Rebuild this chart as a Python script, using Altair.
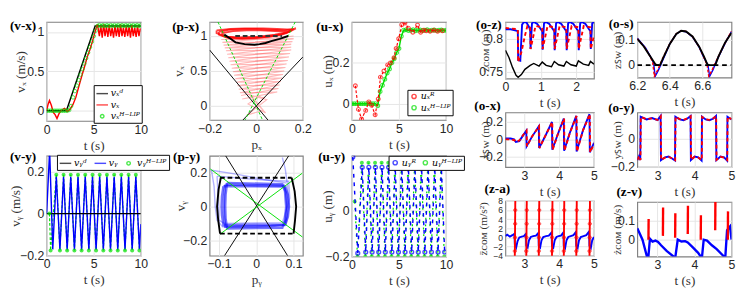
import altair as alt
import pandas as pd

# ---------------- (v-x) ----------------
VX_DES = [(0, 0), (2.1, 0), (5.15, 1.08), (10, 1.08)]
VX_ACT = [(0, 0), (0.15, 0.08), (0.3, 0.13), (0.5, 0.07), (0.7, -0.02), (0.9, -0.05), (1.1, -0.1), (1.3, -0.04),
          (1.6, 0.01), (1.9, 0.03), (2.2, -0.01), (2.5, 0.02), (2.8, 0.08), (3.1, 0.17), (3.4, 0.3), (3.7, 0.43),
          (4.0, 0.55), (4.3, 0.68), (4.6, 0.78), (4.9, 0.9), (5.2, 1.03), (5.4, 1.1), (5.6, 0.95), (5.75, 1.08),
          (5.9, 0.93), (6.05, 1.1), (6.2, 0.95), (6.35, 1.07), (6.5, 0.94), (6.65, 1.09), (6.8, 0.95), (6.95, 1.06),
          (7.1, 0.93), (7.25, 1.08), (7.4, 0.95), (7.55, 1.07), (7.7, 0.94), (7.85, 1.1), (8.0, 0.95), (8.15, 1.06),
          (8.3, 0.94), (8.45, 1.08), (8.6, 0.95), (8.75, 1.07), (8.9, 0.93), (9.05, 1.09), (9.2, 0.95), (9.35, 1.06),
          (9.5, 0.94), (9.65, 1.08), (9.8, 0.95), (9.95, 1.05)]
VX_HLIP = [(0, 0), (0.2, 0), (0.4, 0), (0.6, 0), (0.8, 0), (1.0, 0), (1.2, 0), (1.4, 0), (1.6, 0), (1.8, 0),
           (2.0, 0), (2.2, 0), (2.4, 0.01), (2.6, 0.06), (2.8, 0.17), (3.0, 0.25), (3.2, 0.32), (3.4, 0.39),
           (3.6, 0.46), (3.8, 0.53), (4.0, 0.6), (4.2, 0.67), (4.4, 0.74), (4.6, 0.81), (4.8, 0.88), (5.0, 0.95),
           (5.2, 1.02), (5.4, 1.08), (5.6, 1.09), (5.8, 1.08), (6.0, 1.09), (6.2, 1.08), (6.4, 1.09), (6.6, 1.08),
           (6.8, 1.09), (7.0, 1.08), (7.2, 1.09), (7.4, 1.08), (7.6, 1.09), (7.8, 1.08), (8.0, 1.09), (8.2, 1.08),
           (8.4, 1.09), (8.6, 1.08), (8.8, 1.09), (9.0, 1.08), (9.2, 1.09), (9.4, 1.08), (9.6, 1.09), (9.8, 1.08),
           (10.0, 1.09)]

# ---------------- (p-x) ----------------
PX_BLACK = [[(-0.2, 0.8), (0.05, -0.2)], [(-0.057, -0.2), (0.2, 0.7)]]
PX_GREEN = [[(-0.164, 1.2), (0.027, -0.2)], [(0.167, 1.2), (-0.048, -0.2)]]
PX_TRAIL = [[(0.0, 0.0), (0.035, 0.12), (-0.02, 0.14), (0.03, -0.06), (-0.04, -0.13), (0.045, 0.09), (-0.03, 0.16),
             (0.04, -0.1), (-0.035, 0.03), (0.02, 0.15), (-0.06, 0.1), (0.09, 0.2), (-0.07, 0.19), (0.1, 0.3),
             (-0.08, 0.29), (0.11, 0.4), (-0.09, 0.39), (0.12, 0.5), (-0.1, 0.49), (0.13, 0.6), (-0.11, 0.59),
             (0.14, 0.7), (-0.12, 0.69), (0.15, 0.8), (-0.13, 0.79), (0.15, 0.88), (-0.14, 0.87), (0.16, 0.96),
             (-0.15, 0.95)],
            [(-0.065, 0.15), (0.095, 0.25), (-0.075, 0.24), (0.105, 0.35), (-0.085, 0.34), (0.115, 0.45),
             (-0.095, 0.44), (0.125, 0.55), (-0.105, 0.54), (0.135, 0.65), (-0.115, 0.64), (0.145, 0.75),
             (-0.125, 0.74), (0.15, 0.84), (-0.135, 0.83), (0.155, 0.92), (-0.145, 0.91), (0.16, 1.0)]]
PX_LOOPS = [[(-0.16, 1.06), (-0.12, 1.09), (-0.06, 1.1), (0.0, 1.1), (0.06, 1.09), (0.12, 1.08), (0.16, 1.1),
             (0.13, 1.04), (0.07, 1.0), (0.0, 0.97), (-0.06, 0.96), (-0.12, 0.97), (-0.16, 1.02), (-0.16, 1.06)],
            [(-0.15, 1.04), (-0.1, 1.07), (-0.04, 1.08), (0.02, 1.08), (0.08, 1.07), (0.14, 1.06), (0.15, 1.08),
             (0.11, 1.02), (0.05, 0.99), (-0.02, 0.97), (-0.08, 0.97), (-0.13, 0.99), (-0.15, 1.04)],
            [(-0.17, 1.08), (-0.11, 1.1), (-0.05, 1.11), (0.03, 1.11), (0.09, 1.1), (0.15, 1.09), (0.17, 1.11),
             (0.14, 1.06), (0.08, 1.02), (0.01, 0.99), (-0.07, 0.98), (-0.13, 0.99), (-0.17, 1.04), (-0.17, 1.08)]]
PX_CURVE = [(-0.137, 1.02), (-0.11, 0.96), (-0.089, 0.91), (-0.05, 0.885), (-0.007, 0.876), (0.014, 0.884),
            (0.04, 0.9), (0.068, 0.93), (0.1, 0.96), (0.137, 1.0)]
PX_DASH = [(-0.09, 1.0), (0.11, 1.0)]

# ---------------- (u-x) ----------------
UX_R = [(0.37, 0.088), (0.7, -0.028), (1.03, -0.075), (1.47, -0.033), (1.8, 0.009), (2.1, -0.008), (2.47, -0.054),
        (2.8, 0.023), (3.03, 0.13), (3.4, 0.16), (3.8, 0.19), (4.1, 0.2), (4.47, 0.225), (4.7, 0.27), (4.97, 0.318),
        (5.3, 0.387), (5.63, 0.395), (6.0, 0.37), (6.47, 0.35), (6.97, 0.385), (7.3, 0.35), (7.6, 0.36),
        (7.9, 0.357), (8.3, 0.355), (8.7, 0.36), (9.1, 0.355), (9.6, 0.357)]
UX_H = [(0, 0), (0.25, 0), (0.5, 0), (0.75, 0), (1.0, 0), (1.25, 0), (1.5, 0), (1.75, 0), (2.0, 0), (2.25, 0),
        (2.5, 0), (2.75, -0.01), (3.0, 0.06), (3.25, 0.09), (3.5, 0.12), (3.75, 0.15), (4.0, 0.17), (4.25, 0.2),
        (4.5, 0.22), (4.75, 0.25), (5.0, 0.27), (5.25, 0.33), (5.5, 0.36), (5.75, 0.362), (6.0, 0.358),
        (6.25, 0.36), (6.5, 0.362), (6.75, 0.357), (7.0, 0.36), (7.25, 0.361), (7.5, 0.358), (7.75, 0.36),
        (8.0, 0.362), (8.25, 0.358), (8.5, 0.36), (8.75, 0.361), (9.0, 0.358), (9.25, 0.36), (9.5, 0.361),
        (9.75, 0.358), (10.0, 0.36)]

# ---------------- (v-y) ----------------
VY_DES = [(0, 0), (10, 0)]
VY_ACT = [(0, 0), (0.32, 0.3), (0.65, -0.17), (1.03, 0.175), (1.41, -0.17), (1.8, 0.175), (2.18, -0.17),
          (2.56, 0.175), (2.95, -0.17), (3.33, 0.175), (3.71, -0.17), (4.1, 0.175), (4.48, -0.17), (4.87, 0.175),
          (5.25, -0.17), (5.63, 0.175), (6.02, -0.17), (6.4, 0.175), (6.78, -0.17), (7.17, 0.175), (7.55, -0.17),
          (7.93, 0.175), (8.32, -0.17), (8.7, 0.175), (9.08, -0.17), (9.47, 0.175), (9.85, -0.17), (10, -0.05)]
VY_HLIP = [(0.3, 0.0), (0.42, -0.175), (1.03, 0.185), (1.41, -0.175), (1.8, 0.185), (2.18, -0.175), (2.56, 0.185),
           (2.95, -0.175), (3.33, 0.185), (3.71, -0.175), (4.1, 0.185), (4.48, -0.175), (4.87, 0.185),
           (5.25, -0.175), (5.63, 0.185), (6.02, -0.175), (6.4, 0.185), (6.78, -0.175), (7.17, 0.185),
           (7.55, -0.175), (7.93, 0.185), (8.32, -0.175), (8.7, 0.185), (9.08, -0.175), (9.47, 0.185),
           (9.85, -0.175)]

# ---------------- (p-y) ----------------
PY_BLACK = [[(-0.082, 0.3), (0.084, -0.29)], [(0.087, 0.3), (-0.085, -0.29)]]
PY_GREEN = [[(-0.123, 0.222), (0.124, -0.18)], [(-0.097, -0.163), (0.124, 0.198)]]
PY_DASH = [[(-0.097, 0.17), (0.095, 0.17)], [(-0.097, -0.16), (0.1, -0.16)]]
PY_ARCS = [[(-0.095, 0.17), (-0.101, 0.1), (-0.105, 0.0), (-0.102, -0.08), (-0.097, -0.16)],
           [(0.095, 0.17), (0.103, 0.09), (0.107, 0.0), (0.104, -0.08), (0.1, -0.16)]]
PY_LIGHT = [[(-0.12, 0.215), (-0.113, 0.12), (-0.11, 0.0), (-0.105, -0.08), (-0.09, -0.12), (0.0, -0.118),
             (0.08, -0.11), (0.088, 0.0), (0.084, 0.12), (0.078, 0.22), (0.07, 0.29)],
            [(-0.12, 0.215), (-0.05, 0.19), (0.02, 0.16), (0.08, 0.14)],
            [(-0.105, 0.18), (-0.102, 0.05), (-0.1, -0.08), (-0.085, -0.1), (0.07, -0.095), (0.09, 0.05),
             (0.087, 0.15), (0.0, 0.16), (-0.105, 0.18)]]
PY_LOOPS = [[(-0.083, 0.13), (-0.04, 0.128), (0.0, 0.126), (0.04, 0.125), (0.074, 0.124), (0.08, 0.08),
             (0.083, 0.0), (0.08, -0.07), (0.075, -0.11), (0.04, -0.115), (0.0, -0.117), (-0.04, -0.118),
             (-0.083, -0.12), (-0.086, -0.06), (-0.087, 0.0), (-0.086, 0.07), (-0.083, 0.13)],
            [(-0.078, 0.14), (0.07, 0.132), (0.077, 0.09), (0.08, 0.0), (0.077, -0.08), (0.07, -0.125),
             (-0.078, -0.13), (-0.082, -0.07), (-0.083, 0.0), (-0.082, 0.07), (-0.078, 0.14)],
            [(-0.088, 0.12), (0.078, 0.118), (0.085, 0.07), (0.088, 0.0), (0.085, -0.06), (0.078, -0.105),
             (-0.088, -0.11), (-0.092, -0.05), (-0.093, 0.0), (-0.092, 0.06), (-0.088, 0.12)]]

# ---------------- (u-y) ----------------
UY_R = [(0.1, 0.235), (0.63, -0.185), (1.1, 0.19), (1.47, -0.18), (1.8, 0.19), (2.15, -0.18), (2.5, 0.19),
        (2.85, -0.18), (3.2, 0.19), (3.55, -0.18), (3.9, 0.19), (4.25, -0.18), (4.6, 0.19), (4.95, -0.18),
        (5.3, 0.19), (5.65, -0.18), (6.0, 0.19), (6.35, -0.18), (6.7, 0.19), (7.05, -0.18), (7.4, 0.19),
        (7.75, -0.18), (8.1, 0.19), (8.45, -0.18), (8.8, 0.19), (9.15, -0.18), (9.5, 0.19), (9.85, -0.18)]
UY_H = [(0.3, 0.04), (0.6, -0.2), (1.06, 0.21), (1.43, -0.2), (1.76, 0.21), (2.11, -0.2), (2.46, 0.21),
        (2.81, -0.2), (3.16, 0.21), (3.51, -0.2), (3.86, 0.21), (4.21, -0.2), (4.56, 0.21), (4.91, -0.2),
        (5.26, 0.21), (5.61, -0.2), (5.96, 0.21), (6.31, -0.2), (6.66, 0.21), (7.01, -0.2), (7.36, 0.21),
        (7.71, -0.2), (8.06, 0.21), (8.41, -0.2), (8.76, 0.21), (9.11, -0.2), (9.46, 0.21), (9.81, -0.2)]

# ---------------- (o-z) ----------------
OZ_BLUE = [(0, 0.815), (0.15, 0.815), (0.3, 0.813), (0.35, 0.812), (0.36, 0.768), (0.42, 0.767), (0.45, 0.8),
           (0.47, 0.822), (0.52, 0.826), (0.6, 0.825), (0.68, 0.817), (0.7, 0.812), (0.71, 0.785), (0.73, 0.805),
           (0.75, 0.824), (0.8, 0.826), (0.9, 0.823), (1.0, 0.815), (1.04, 0.812), (1.05, 0.784), (1.07, 0.805),
           (1.09, 0.824), (1.14, 0.826), (1.24, 0.823), (1.34, 0.815), (1.38, 0.812), (1.39, 0.783), (1.41, 0.805),
           (1.43, 0.824), (1.48, 0.826), (1.58, 0.823), (1.68, 0.815), (1.72, 0.812), (1.73, 0.783), (1.75, 0.805),
           (1.77, 0.824), (1.82, 0.826), (1.92, 0.823), (2.02, 0.815), (2.06, 0.812), (2.07, 0.783), (2.09, 0.805),
           (2.11, 0.824), (2.16, 0.826), (2.26, 0.823), (2.36, 0.815), (2.4, 0.812), (2.41, 0.785), (2.43, 0.805),
           (2.45, 0.824), (2.5, 0.826)]
OZ_RED = [(0, 0.817), (0.35, 0.815), (0.36, 0.765), (0.45, 0.78), (0.55, 0.805), (0.62, 0.82), (0.7, 0.818),
          (0.71, 0.785), (0.85, 0.82), (1.04, 0.818), (1.05, 0.785), (1.19, 0.82), (1.38, 0.818), (1.39, 0.785),
          (1.53, 0.82), (1.72, 0.818), (1.73, 0.785), (1.87, 0.82), (2.06, 0.818), (2.07, 0.785), (2.21, 0.82),
          (2.4, 0.818), (2.41, 0.785), (2.5, 0.805)]
OZ_BLACK = [(0, 0.783), (0.1, 0.772), (0.2, 0.757), (0.3, 0.745), (0.36, 0.742), (0.45, 0.746), (0.55, 0.754),
            (0.7, 0.76), (0.8, 0.763), (0.95, 0.759), (1.04, 0.765), (1.15, 0.76), (1.3, 0.758), (1.38, 0.766),
            (1.5, 0.761), (1.65, 0.759), (1.72, 0.766), (1.85, 0.761), (2.0, 0.759), (2.06, 0.767), (2.2, 0.762),
            (2.35, 0.76), (2.4, 0.766), (2.5, 0.762)]

# ---------------- (o-s) ----------------
OS_BLACK = [(6.2, 0.105), (6.24, 0.075), (6.28, 0.035), (6.31, 0.005), (6.32, 0), (6.34, 0), (6.36, 0.03),
            (6.4, 0.085), (6.44, 0.125), (6.47, 0.138), (6.5, 0.135), (6.54, 0.115), (6.58, 0.075), (6.61, 0.035),
            (6.63, 0.005), (6.64, 0), (6.68, 0), (6.7, 0.035), (6.74, 0.09), (6.78, 0.13)]
OS_GROUND = [(6.2, 0), (6.78, 0)]
OS_BLUE = [(6.2, 0.108), (6.25, 0.07), (6.28, 0.035), (6.3, 0.01), (6.31, -0.045), (6.33, -0.02), (6.36, 0.025),
           (6.4, 0.085), (6.44, 0.125), (6.47, 0.137), (6.5, 0.134), (6.54, 0.113), (6.58, 0.073), (6.61, 0.03),
           (6.635, 0.0), (6.645, -0.045), (6.665, -0.02), (6.69, 0.02), (6.72, 0.06), (6.75, 0.1), (6.78, 0.135)]
OS_RED = [(6.2, 0.106), (6.25, 0.068), (6.28, 0.033), (6.295, 0.01), (6.305, -0.045), (6.325, -0.02),
          (6.355, 0.025), (6.4, 0.086), (6.44, 0.126), (6.47, 0.138), (6.5, 0.135), (6.54, 0.114), (6.58, 0.074),
          (6.61, 0.031), (6.63, 0.0), (6.64, -0.045), (6.66, -0.02), (6.69, 0.022), (6.72, 0.062), (6.75, 0.101),
          (6.78, 0.136)]

# ---------------- (o-x) ----------------
OX_BLUE = [(2.45, 0.01), (2.6, 0.01), (2.7, 0.0), (2.75, -0.03), (2.85, -0.02), (2.95, 0.04), (3.05, 0.1),
           (3.06, -0.08), (3.2, 0.02), (3.41, 0.15), (3.42, -0.1), (3.6, 0.04), (3.79, 0.2), (3.8, -0.12),
           (3.95, 0.05), (4.13, 0.24), (4.14, -0.13), (4.3, 0.07), (4.49, 0.27), (4.5, -0.14), (4.68, 0.1),
           (4.87, 0.29), (4.88, -0.15), (5.0, -0.04)]
OX_RED = [(2.45, 0.0), (2.6, 0.0), (2.71, -0.01), (2.76, -0.03), (2.86, -0.01), (2.96, 0.05), (3.06, 0.1),
          (3.07, -0.08), (3.21, 0.03), (3.42, 0.15), (3.43, -0.1), (3.61, 0.05), (3.8, 0.2), (3.81, -0.12),
          (3.96, 0.06), (4.14, 0.24), (4.15, -0.13), (4.31, 0.08), (4.5, 0.27), (4.51, -0.14), (4.69, 0.11),
          (4.88, 0.29), (4.89, -0.15), (5.0, -0.05)]

# ---------------- (o-y) ----------------
OY_BLUE = [(2.45, -0.15), (2.5, -0.12), (2.53, -0.15), (2.54, 0.16), (2.7, 0.14), (2.85, 0.15), (3.0, 0.135),
           (3.08, 0.165), (3.09, -0.15), (3.2, -0.13), (3.3, -0.125), (3.4, -0.14), (3.47, -0.153), (3.48, 0.16),
           (3.6, 0.14), (3.7, 0.135), (3.8, 0.145), (3.89, 0.165), (3.9, -0.15), (4.0, -0.125), (4.1, -0.13),
           (4.19, -0.153), (4.2, 0.16), (4.3, 0.14), (4.4, 0.135), (4.5, 0.145), (4.58, 0.165), (4.59, -0.15),
           (4.7, -0.125), (4.8, -0.13), (4.88, -0.153), (4.89, 0.16), (5.0, 0.14)]
OY_RED = [(2.45, -0.148), (2.5, -0.122), (2.535, -0.15), (2.545, 0.158), (2.7, 0.142), (2.85, 0.148),
          (3.0, 0.137), (3.085, 0.163), (3.095, -0.148), (3.2, -0.132), (3.3, -0.127), (3.4, -0.138),
          (3.475, -0.15), (3.485, 0.158), (3.6, 0.142), (3.7, 0.137), (3.8, 0.147), (3.895, 0.163),
          (3.905, -0.148), (4.0, -0.127), (4.1, -0.132), (4.195, -0.15), (4.205, 0.158), (4.3, 0.142),
          (4.4, 0.137), (4.5, 0.147), (4.585, 0.163), (4.595, -0.148), (4.7, -0.127), (4.8, -0.132),
          (4.885, -0.15), (4.895, 0.158), (5.0, 0.142)]

# ---------------- (z-a) ----------------
ZA_BLUE = [(2.45, 0.3), (2.5, 0.6), (2.58, 0.2), (2.65, 0.5), (2.71, 0.8), (2.72, -1.5), (2.76, -2.2), (2.8, -0.8),
           (2.85, 0.0), (2.92, 0.2), (2.98, 0.3), (3.04, 0.8), (3.05, -1.8), (3.09, -2.2), (3.13, -0.6),
           (3.18, 0.1), (3.25, 0.3), (3.33, 0.4), (3.4, 1.0), (3.41, -1.8), (3.45, -2.2), (3.49, -0.6),
           (3.54, 0.1), (3.62, 0.3), (3.7, 0.4), (3.78, 1.1), (3.79, -1.8), (3.83, -2.2), (3.87, -0.6),
           (3.92, 0.1), (3.98, 0.3), (4.05, 0.4), (4.12, 1.1), (4.13, -1.8), (4.17, -2.3), (4.21, -0.6),
           (4.26, 0.1), (4.33, 0.3), (4.41, 0.5), (4.48, 1.2), (4.49, -1.8), (4.53, -2.3), (4.57, -0.6),
           (4.62, 0.1), (4.7, 0.3), (4.78, 0.5), (4.86, 1.3), (4.87, -1.8), (4.91, -2.3), (4.95, -0.6),
           (5.0, 0.1)]
ZA_RED = [[(2.72, -4.5), (2.735, 8.5)], [(3.05, -4.5), (3.065, 8.5)], [(3.41, -4.5), (3.425, 8.5)],
          [(3.79, -4.5), (3.805, 8.5)], [(4.13, -4.5), (4.145, 8.5)], [(4.49, -4.5), (4.505, 8.5)],
          [(4.87, -4.5), (4.885, 8.5)]]
ZA_MARKS = [(2.722, -3), (2.726, 0), (2.73, 3), (2.733, 6), (3.052, -3), (3.056, 0), (3.06, 3), (3.063, 6),
            (3.412, -3), (3.416, 0), (3.42, 3), (3.423, 6), (3.792, -3), (3.796, 0), (3.8, 3), (3.803, 6),
            (4.132, -3), (4.136, 0), (4.14, 3), (4.143, 6), (4.492, -3), (4.496, 0), (4.5, 3), (4.503, 6),
            (4.872, -3), (4.876, 0), (4.88, 3), (4.883, 6)]

# ---------------- (z-v) ----------------
ZV_BLUE = [(2.46, 0.06), (2.6, 0.0), (2.72, -0.09), (2.75, -0.11), (2.8, 0.005), (2.87, -0.01), (2.95, -0.005),
           (3.02, -0.012), (3.1, -0.03), (3.25, -0.06), (3.44, -0.09), (3.48, -0.1), (3.55, 0.0), (3.65, -0.01),
           (3.75, -0.008), (3.82, -0.015), (3.95, -0.04), (4.1, -0.07), (4.17, -0.09), (4.2, -0.1), (4.25, 0.0),
           (4.34, -0.005), (4.47, -0.03), (4.6, -0.05), (4.8, -0.09), (4.83, -0.1), (4.88, 0.05), (4.96, 0.07),
           (5.0, 0.0)]
ZV_RED = [[(2.76, 0.0), (2.765, 0.11)], [(3.15, 0.02), (3.155, 0.17)], [(3.48, 0.01), (3.485, 0.14)],
          [(3.82, 0.03), (3.825, 0.18)], [(4.17, 0.0), (4.175, 0.13)], [(4.56, 0.05), (4.565, 0.2)],
          [(4.9, 0.0), (4.905, 0.15)]]

BLUE, RED, GREEN, BLACK = "#0000ff", "#ff0000", "#00e000", "#000000"
SMALL_CIRCLE = "M-0.3,0A0.3,0.3,0,1,1,0.3,0A0.3,0.3,0,1,1,-0.3,0Z"


def to_df(groups):
    rows = []
    for g, pts_ in enumerate(groups):
        for i, (x, y) in enumerate(pts_):
            rows.append({"x": x, "y": y, "i": i, "g": g})
    return pd.DataFrame(rows)


def line(groups, **st):
    return ("line", groups, st)


def pts(groups, **st):
    return ("point", groups, st)


def panel(p, spacer=None):
    w, h = p["w"], p["h"]
    xs = alt.Scale(domain=p["xdom"], nice=False, zero=False)
    ys = alt.Scale(domain=p["ydom"], nice=False, zero=False)
    tfs = p.get("tfs", 14)
    xa = alt.Axis(values=p["xticks"], format="~r", title=p["xtitle"], titleX=w / 2, titleY=26)
    ya = alt.Axis(values=p["yticks"], format="~r", title=p["ytitle"], titleX=-p["ytx"], titleY=h / 2,
                  titleAngle=270, titleFontSize=tfs, labelFontSize=p.get("ylfs", 13))
    X = alt.X("x:Q", scale=xs, axis=xa)
    Y = alt.Y("y:Q", scale=ys, axis=ya)
    layers = []
    for kind, groups, st in p["layers"]:
        d = to_df(groups)
        if kind == "line":
            layers.append(alt.Chart(d).mark_line(clip=True, **st).encode(x=X, y=Y, detail="g:N", order="i:Q"))
        else:
            layers.append(alt.Chart(d).mark_point(clip=True, **st).encode(x=X, y=Y))
    if "legend" in p:
        lg = p["legend"]
        names = lg["names"]
        d = pd.DataFrame({"s": names, "x": [p["xdom"][0] - 1000] * len(names),
                          "y": [p["ydom"][0] - 1000] * len(names)})
        leg = alt.Legend(title=None, orient="none", legendX=lg["x"], legendY=lg["y"], direction=lg["dir"],
                         columns=lg["cols"], fillColor="white", strokeColor="black", padding=2,
                         labelFont="DejaVu Serif", labelFontSize=10, labelFontStyle="italic", labelColor="black",
                         symbolStrokeWidth=1.5, symbolSize=lg["ssize"], rowPadding=0, columnPadding=4,
                         labelOffset=2, cornerRadius=0, labelLimit=80)
        layers.append(alt.Chart(d).mark_point(clip=True, filled=False, strokeWidth=1.5).encode(
            x=X, y=Y,
            color=alt.Color("s:N", scale=alt.Scale(domain=names, range=lg["colors"]), legend=leg),
            shape=alt.Shape("s:N", scale=alt.Scale(domain=names, range=lg["shapes"]), legend=leg),
        ))
    layers.append(alt.Chart(pd.DataFrame({"t": [p["label"]]})).mark_text(
        font="Liberation Serif", fontSize=14, fontWeight="bold", align="right", baseline="middle",
        color="black").encode(text="t:N", x=alt.value(p["lx"]), y=alt.value(p["ly"])))
    if spacer is not None:
        L, R, T = spacer
        layers.append(alt.Chart(pd.DataFrame({"a": [0]})).mark_rule(opacity=0, strokeWidth=0.1).encode(
            x=alt.value(-L), x2=alt.value(w + R), y=alt.value(-T), y2=alt.value(0)))
    return alt.layer(*layers).properties(width=w, height=h)


P_VX = dict(label="(v-x)", lx=-11, ly=4, w=100, h=105, xdom=[0, 10], ydom=[-0.13, 1.13], xticks=[0, 5, 10],
            yticks=[0, 0.5, 1], xtitle="t (s)", ytitle="vₓ (m/s)", ytx=27,
            layers=[line([VX_DES], color=BLACK, strokeWidth=1.5), line([VX_ACT], color=RED, strokeWidth=1.5),
                    pts([VX_HLIP], color=GREEN, size=14, strokeWidth=1, filled=False)],
            legend=dict(names=["vₓᵈ", "vₓ", "vₓᴴ⁻ᴸᴵᴾ"], colors=[BLACK, RED, GREEN],
                        shapes=["stroke", "stroke", SMALL_CIRCLE], ssize=150, x=50, y=67, dir="vertical",
                        cols=1))
P_PX = dict(label="(p-x)", lx=-11, ly=6, w=99, h=104, xdom=[-0.2, 0.2], ydom=[-0.2, 1.2], xticks=[-0.2, 0, 0.2],
            yticks=[0, 0.5, 1], xtitle="pₓ", ytitle="vₓ", ytx=33,
            layers=[line(PX_TRAIL, color=RED, strokeWidth=1.2, opacity=0.28),
                    line(PX_LOOPS, color=RED, strokeWidth=2, opacity=0.75),
                    line(PX_BLACK, color=BLACK, strokeWidth=1),
                    line(PX_GREEN, color=GREEN, strokeWidth=1, strokeDash=[3, 2]),
                    line([PX_CURVE], color=BLACK, strokeWidth=2),
                    line([PX_DASH], color="#333333", strokeWidth=2, strokeDash=[5, 3])])
P_UX = dict(label="(u-x)", lx=-9, ly=5, w=100, h=104, xdom=[0, 10], ydom=[-0.08, 0.4], xticks=[0, 5, 10],
            yticks=[0, 0.2], xtitle="t (s)", ytitle="uₓ (m)", ytx=26,
            layers=[line([UX_H], color=GREEN, strokeWidth=1.5), pts([UX_H], color=GREEN, size=16, strokeWidth=1.2),
                    line([UX_R], color=RED, strokeWidth=1.2, strokeDash=[3, 2]),
                    pts([UX_R], color=RED, size=16, strokeWidth=1.2)],
            legend=dict(names=["uₓᴿ", "uₓᴴ⁻ᴸᴵᴾ"], colors=[RED, GREEN], shapes=["circle", "circle"],
                        ssize=20, x=59, y=72, dir="vertical", cols=1))
P_VY = dict(label="(v-y)", lx=-11, ly=2, w=100, h=106, xdom=[0, 10], ydom=[-0.2, 0.275], xticks=[0, 5, 10],
            yticks=[-0.2, 0, 0.2], xtitle="t (s)", ytitle="vᵧ (m/s)", ytx=33,
            layers=[line([VY_HLIP], color=GREEN, strokeWidth=1.2, strokeDash=[3, 2]),
                    line([VY_ACT], color=BLUE, strokeWidth=1.5),
                    line([VY_DES], color=BLACK, strokeWidth=1.5),
                    pts([VY_HLIP], color=GREEN, size=18, filled=True)],
            legend=dict(names=["vᵧᵈ", "vᵧ", "vᵧᴴ⁻ᴸᴵᴾ"], colors=[BLACK, BLUE, GREEN],
                        shapes=["stroke", "stroke", SMALL_CIRCLE], ssize=150, x=11, y=-1,
                        dir="horizontal", cols=3))
P_PY = dict(label="(p-y)", lx=-10, ly=2, w=99, h=106, xdom=[-0.125, 0.125], ydom=[-0.29, 0.3],
            xticks=[-0.1, 0, 0.1], yticks=[-0.2, 0, 0.2], xtitle="pᵧ", ytitle="vᵧ", ytx=31,
            layers=[line(PY_LIGHT, color=BLUE, strokeWidth=1.5, opacity=0.3),
                    line(PY_LOOPS, color=BLUE, strokeWidth=2.5, opacity=0.55),
                    line(PY_BLACK, color=BLACK, strokeWidth=1),
                    line(PY_GREEN, color=GREEN, strokeWidth=1),
                    line(PY_DASH, color=BLACK, strokeWidth=2, strokeDash=[5, 3]),
                    line(PY_ARCS, color=BLACK, strokeWidth=2)])
P_UY = dict(label="(u-y)", lx=-7, ly=2, w=100, h=107, xdom=[0, 10], ydom=[-0.2, 0.24], xticks=[0, 5, 10],
            yticks=[-0.2, 0], xtitle="t (s)", ytitle="uᵧ (m)", ytx=26,
            layers=[line([UY_H], color=GREEN, strokeWidth=1.3, strokeDash=[2, 5]),
                    pts([UY_H], color=GREEN, size=18, filled=True),
                    line([UY_R], color=BLUE, strokeWidth=1.5, strokeDash=[4, 5]),
                    pts([UY_R], color=BLUE, size=16, strokeWidth=1.5)],
            legend=dict(names=["uᵧᴿ", "uᵧᴴ⁻ᴸᴵᴾ"], colors=[BLUE, GREEN], shapes=["circle", "circle"],
                        ssize=20, x=39, y=0, dir="horizontal", cols=2))

P_OZ = dict(label="(o-z)", lx=-4, ly=3, w=94, h=60, xdom=[0, 2.5], ydom=[0.74, 0.826], xticks=[0, 1, 2],
            yticks=[0.75, 0.8], xtitle="t (s)", ytitle="zᴄᴏᴍ (m)", ytx=22, tfs=12,
            layers=[line([OZ_BLACK], color=BLACK, strokeWidth=1.5), line([OZ_BLUE], color=BLUE, strokeWidth=2),
                    line([OZ_RED], color=RED, strokeWidth=2, strokeDash=[4, 3])])
P_OS = dict(label="(o-s)", lx=-4, ly=2, w=100, h=59, xdom=[6.2, 6.78], ydom=[-0.05, 0.173],
            xticks=[6.2, 6.4, 6.6], yticks=[0, 0.1], xtitle="t (s)", ytitle="zꜱᴡ (m)", ytx=22, tfs=12,
            layers=[line([OS_BLUE], color=BLUE, strokeWidth=1.5),
                    line([OS_RED], color=RED, strokeWidth=1.5, strokeDash=[3, 2]),
                    line([OS_GROUND], color=BLACK, strokeWidth=2, strokeDash=[5, 4]),
                    line([OS_BLACK], color=BLACK, strokeWidth=2)])
P_OX = dict(label="(o-x)", lx=-5, ly=-7, w=94, h=58, xdom=[2.45, 5], ydom=[-0.32, 0.31], xticks=[3, 4, 5],
            yticks=[-0.2, 0, 0.2], xtitle="t (s)", ytitle="xꜱᴡ (m)", ytx=22, tfs=12,
            layers=[line([OX_BLUE], color=BLUE, strokeWidth=2),
                    line([OX_RED], color=RED, strokeWidth=2, strokeDash=[4, 3])])
P_OY = dict(label="(o-y)", lx=-3, ly=-4, w=100, h=58, xdom=[2.45, 5], ydom=[-0.2, 0.19], xticks=[3, 4, 5],
            yticks=[-0.2, 0], xtitle="t (s)", ytitle="yꜱᴡ (m)", ytx=22, tfs=12,
            layers=[line([OY_BLUE], color=BLUE, strokeWidth=2),
                    line([OY_RED], color=RED, strokeWidth=2, strokeDash=[4, 3])])
P_ZA = dict(label="(z-a)", lx=5, ly=-13, w=94, h=58, xdom=[2.45, 5], ydom=[-4, 8], xticks=[3, 4, 5],
            yticks=[-4, -2, 0, 2, 4, 6, 8], xtitle="t (s)", ytitle="z̈ᴄᴏᴍ (m/s²)", ytx=24, tfs=12, ylfs=9,
            layers=[line([ZA_BLUE], color=BLUE, strokeWidth=2), line(ZA_RED, color=RED, strokeWidth=2),
                    pts([ZA_MARKS], color=RED, size=12, strokeWidth=1, shape="cross", filled=False)])
P_ZV = dict(label="(z-v)", lx=5, ly=-10, w=100, h=58, xdom=[2.46, 5], ydom=[-0.09, 0.2], xticks=[3, 4, 5],
            yticks=[0, 0.1], xtitle="t (s)", ytitle="żᴄᴏᴍ (m/s)", ytx=22, tfs=12,
            layers=[line([ZV_BLUE], color=BLUE, strokeWidth=2.5), line(ZV_RED, color=RED, strokeWidth=2.5)])


def ind(c):
    return c.resolve_scale(color="independent", shape="independent")


T = 5
col1 = ind(alt.vconcat(panel(P_VX, (38, 13, T)), panel(P_VY), spacing=37, bounds="flush"))
col2 = ind(alt.vconcat(panel(P_PX, (39, 11, T)), panel(P_PY), spacing=38, bounds="flush"))
col3 = ind(alt.vconcat(panel(P_UX, (39, 12, T)), panel(P_UY), spacing=38, bounds="flush"))
col4 = ind(alt.vconcat(panel(P_OZ, (41, 10, T)), panel(P_OX), panel(P_ZA), spacing=36, bounds="flush"))
col5 = ind(alt.vconcat(panel(P_OS, (34, 8, T)), panel(P_OY), panel(P_ZV), spacing=37, bounds="flush"))
chart = ind(alt.hconcat(col1, col2, col3, col4, col5, spacing=0)).properties(
    padding={"left": 0, "top": 0, "right": 0, "bottom": 0})

chart = chart.configure_view(stroke="#808080", strokeWidth=1.2).configure_axis(
    grid=True, gridColor="#e4e4e4", ticks=False, domain=False, labelFont="Liberation Sans", labelFontSize=13,
    labelColor="#262626", labelPadding=3, labelFlush=False, labelOverlap=False, titleFont="Liberation Serif",
    titleFontSize=14, titleFontWeight="normal", titleColor="#333333", titleBaseline="middle", titleAlign="center")

chart.save("out.html", embed_options={"renderer": "svg", "actions": False})
